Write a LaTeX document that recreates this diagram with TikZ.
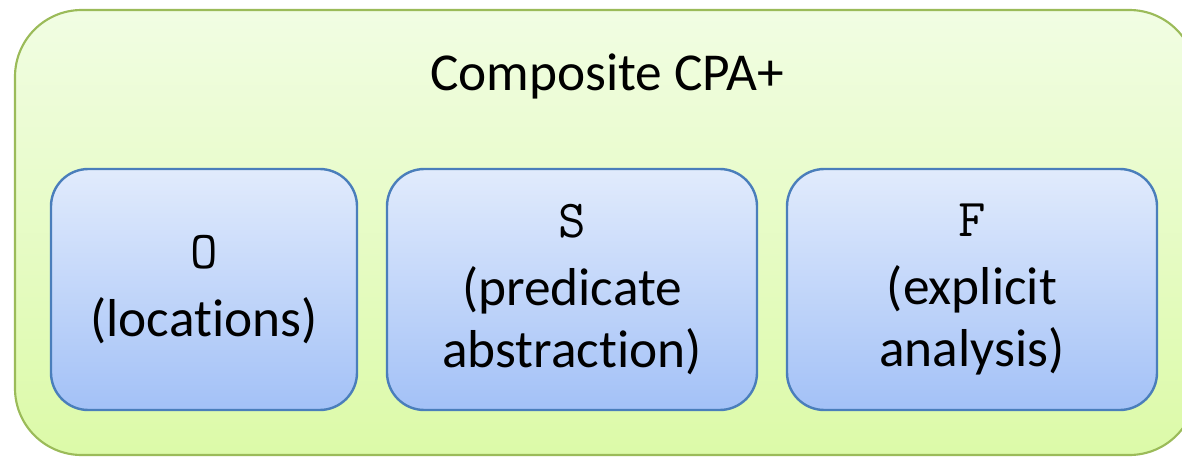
\documentclass[tikz,border=0pt]{standalone}
\usepackage{fontspec}
\setmainfont{Carlito}[Ligatures=NoCommon]
\definecolor{outerline}{HTML}{9BBB59}
\definecolor{outertop}{HTML}{F1FDE3}
\definecolor{outerbot}{HTML}{DCFAA8}
\definecolor{innerline}{HTML}{4A7EBB}
\definecolor{innertop}{HTML}{E1EBFC}
\definecolor{innerbot}{HTML}{A3C1F7}
\begin{document}
\begin{tikzpicture}[x=0.75pt,y=-0.75pt,
  outerbox/.style={draw=outerline, line width=1.6pt, rounded corners=50pt,
    top color=outertop, bottom color=outerbot,
    minimum width=885.75pt, minimum height=333.75pt, inner sep=0pt},
  innerbox/.style={draw=innerline, line width=1.8pt, rounded corners=28pt,
    top color=innertop, bottom color=innerbot,
    minimum height=180.75pt, inner sep=0pt, align=center,
    font=\fontsize{40}{46.5}\selectfont},
  titletext/.style={font=\fontsize{40}{46.5}\selectfont, inner sep=0pt}]
\useasboundingbox (0,0) rectangle (1182,457);
\clip (0,0) rectangle (1182,457);
\node[outerbox] (outer) at (605.5,232.5) {};
\node[titletext] (title) at (607,76) {Composite CPA+};
\node[innerbox, minimum width=229.5pt] (O) at (204,289.5)
  {{\ttfamily O}\\[4pt](locations)};
\node[innerbox, minimum width=277.5pt] (S) at (572,289.5)
  {{\ttfamily S}\\[4pt](predicate\\abstraction)};
\node[innerbox, minimum width=277.5pt] (F) at (972,289.5)
  {{\ttfamily F}\\[4pt](explicit\\analysis)};
\end{tikzpicture}
\end{document}
